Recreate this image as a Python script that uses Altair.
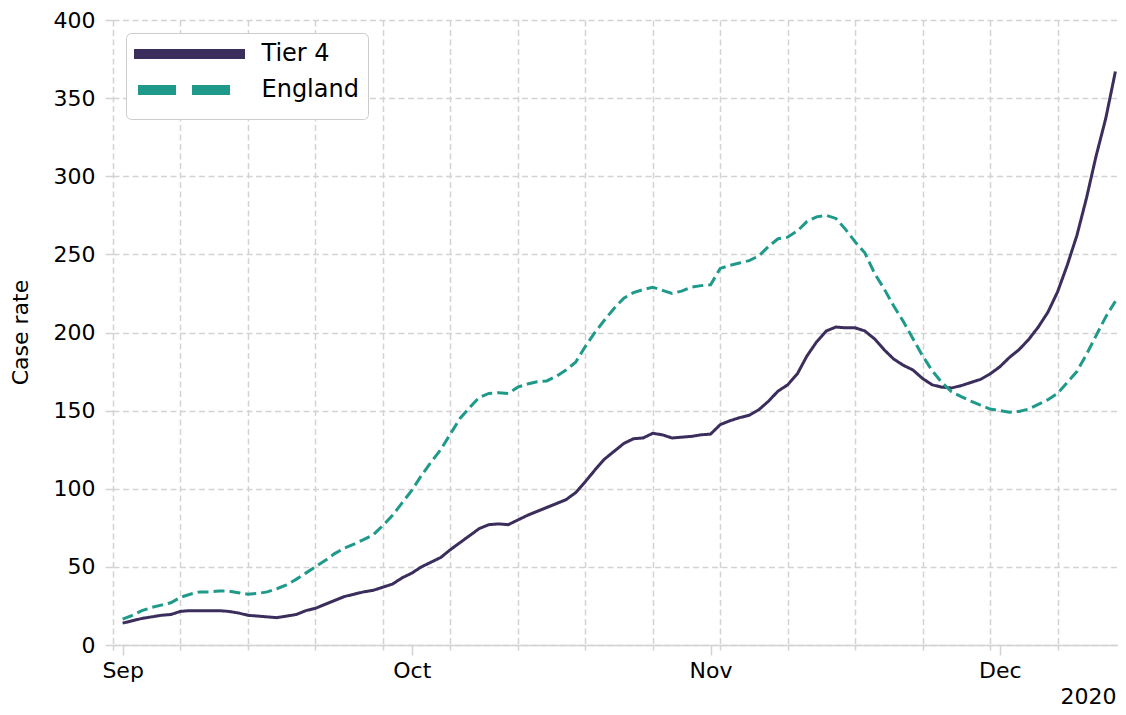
import altair as alt
import pandas as pd

# ---- data ----
start_date = "2020-09-01"
n_days = 104
tier4 = [14, 15.5, 17, 18, 19, 19.5, 21.5, 22, 22, 22, 22, 21.5, 20.5, 19, 18.5, 18, 17.5, 18.5, 19.5, 22,
         23.5, 26, 28.5, 31, 32.5, 34, 35, 37, 39, 43, 46, 50, 53, 56, 61, 65.5, 70, 74.5, 77, 77.5,
         77, 80, 83, 85.5, 88, 90.5, 93, 97.5, 104.5, 112, 119, 124, 129, 132, 132.5, 135.5, 134.5, 132.5, 133, 133.5,
         134.5, 135, 141, 143.5, 145.5, 147, 150.5, 156, 162.5, 166.5, 173.5, 185, 194, 201, 203.5, 203, 203, 201, 196, 189,
         183, 179, 176, 170.5, 166.5, 165, 164.5, 166, 168, 170, 173.5, 178, 184, 189, 195.5, 203.5, 213, 226, 243, 262,
         286, 313, 337, 367]
england = [16.5, 19, 22, 24, 25.5, 27, 30.5, 32.5, 34, 34, 34.5, 34.5, 33.5, 32.5, 33, 34, 36, 38.5, 42, 46,
           50, 54, 58.5, 62, 64.5, 67.5, 70.5, 76.5, 83, 91, 99, 108.5, 117, 125, 135, 145, 152, 158.5, 161, 161.5,
           161, 165, 167, 168.5, 169, 172, 176, 181, 191, 200, 208, 215.5, 222, 225.5, 227.5, 229, 227, 225, 226.5, 229,
           230, 230.5, 241, 243, 244.5, 246, 249, 255, 260, 261, 265, 271, 274, 275, 273, 266, 258, 251, 238, 228,
           217, 207, 196, 185, 175.5, 168, 162, 159, 156, 153.5, 151, 150, 149, 149.5, 151, 154, 157, 161, 168, 175,
           186, 198, 210, 220]
series_names = ["Tier 4", "England"]
series_colors = ["#3c2e5c", "#1f9a8a"]
series_dash = [[1, 0], [11, 5]]
# legend glyphs: solid bar and two long dashes (custom symbol paths)
legend_shapes = ["M-11.1,0H11.1", "M-10.3,0H-2.7M0.5,0H8.1"]
y_ticks = [0, 50, 100, 150, 200, 250, 300, 350, 400]
month_starts = [(9, 1), (10, 1), (11, 1), (12, 1)]
mondays = [(8, 31), (9, 7), (9, 14), (9, 21), (9, 28), (10, 5), (10, 12), (10, 19), (10, 26),
           (11, 2), (11, 9), (11, 16), (11, 23), (11, 30), (12, 7)]
year_label = "2020"

dates = pd.date_range(start_date, periods=n_days, freq="D").strftime("%Y-%m-%d").tolist()
rows = []
for d, a, b in zip(dates, tier4, england):
    rows.append({"date": d, "series": "Tier 4", "rate": a})
    rows.append({"date": d, "series": "England", "rate": b})
df = pd.DataFrame(rows)


def dt(m, d, h=0, mi=0):
    return alt.DateTime(year=2020, month=m, date=d, hours=h, minutes=mi, utc=True)


is_month = "utcdate(datum.value) == 1"
GRID = "#d3d3d3"
FONT = "DejaVu Sans"

x_axis = alt.Axis(
    values=[dt(m, d) for m, d in month_starts + mondays],
    labelExpr="utcdate(datum.value) == 1 ? utcFormat(datum.value, '%b') : ''",
    grid=True,
    gridColor=GRID,
    gridDash=[6, 3.5],
    gridWidth=1.5,
    gridOpacity={"condition": {"test": is_month, "value": 0}, "value": 1},
    tickSize={"condition": {"test": is_month, "value": 10}, "value": 5},
    tickColor=GRID,
    tickWidth=1.5,
    domain=True,
    domainColor=GRID,
    domainWidth=1.5,
    labelFontSize=22,
    labelFont=FONT,
    labelColor="black",
    labelPadding=5,
    labelFlush=False,
    labelOverlap=False,
    title=year_label,
    titleFont=FONT,
    titleFontSize=22,
    titleFontWeight="normal",
    titleColor="black",
    titleAlign="right",
    titleBaseline="alphabetic",
    titleX=1003,
    titleY=58,
)

y_axis = alt.Axis(
    values=y_ticks,
    grid=True,
    gridColor=GRID,
    gridDash=[6, 3.5],
    gridWidth=1.5,
    tickSize=8,
    tickColor=GRID,
    tickWidth=1.5,
    domain=False,
    labelFontSize=22,
    labelFont=FONT,
    labelColor="black",
    labelPadding=10,
    title="Case rate",
    titleFont=FONT,
    titleFontSize=22,
    titleFontWeight="normal",
    titleColor="black",
    titleAngle=270,
    titleAlign="center",
    titleBaseline="middle",
    titleX=-92.5,
    titleY=312,
)

legend = alt.Legend(
    title=None,
    orient="top-left",
    offset=13,
    padding=9,
    strokeColor="#cccccc",
    fillColor="white",
    cornerRadius=5,
    symbolSize=100,
    symbolStrokeWidth=10,
    symbolOffset=42.5,
    symbolOpacity=1,
    symbolFillColor="transparent",
    labelFontSize=24,
    labelFont=FONT,
    labelColor="black",
    labelOffset=60,
)

xscale = alt.Scale(type="utc", domain=[dt(8, 31), dt(12, 13, 6, 30)], nice=False)
yscale = alt.Scale(domain=[0, 400], nice=False, zero=True)
cscale = alt.Scale(domain=series_names, range=series_colors)


def series_line(i):
    return alt.Chart(df).transform_filter(alt.datum.series == series_names[i]).mark_line(
        strokeWidth=3, strokeCap="butt", color=series_colors[i], strokeDash=series_dash[i]
    ).encode(
        x=alt.X("date:T", scale=xscale, axis=x_axis),
        y=alt.Y("rate:Q", scale=yscale, axis=y_axis),
    )


# legend-only layer: draws nothing (filtered out), supplies the legend glyphs
legend_layer = alt.Chart(df).transform_filter("false").mark_point(
    filled=False, strokeWidth=10, strokeCap="butt", opacity=1
).encode(
    x=alt.X("date:T", scale=xscale, axis=x_axis),
    y=alt.Y("rate:Q", scale=yscale, axis=y_axis),
    color=alt.Color("series:N", scale=cscale, legend=legend),
    shape=alt.Shape("series:N", scale=alt.Scale(domain=series_names, range=legend_shapes), legend=legend),
)

chart = alt.layer(series_line(0), series_line(1), legend_layer).properties(
    width=1005,
    height=625,
    autosize=alt.AutoSizeParams(type="none"),
    padding={"left": 105, "top": 12, "right": 0, "bottom": 62},
    background="white",
).configure_view(stroke=None).configure_legend(rowPadding=-4)

chart.save("out.html", embed_options={"renderer": "svg", "actions": False})
